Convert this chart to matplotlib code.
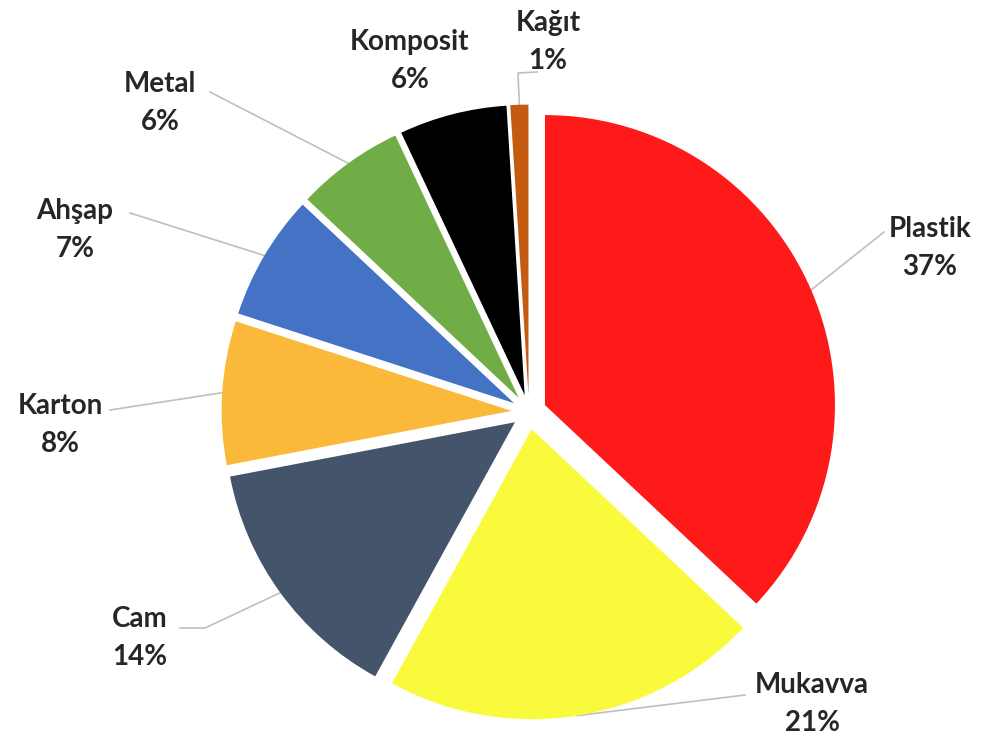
import numpy as np
import matplotlib
matplotlib.use("Agg")
import matplotlib.pyplot as plt

# Packaging material shares (%), clockwise from 12 o'clock
materials = ["Plastik", "Mukavva", "Cam", "Karton", "Ahşap", "Metal", "Komposit", "Kağıt"]
shares = [37, 21, 14, 8, 7, 6, 6, 1]
colors = ["#FF1A1A", "#FAFA3C", "#44546A", "#FBB93B", "#4472C4", "#70AD47", "#000000", "#C55A11"]

# layout in pixels of the 998x749 canvas
W, H = 998, 749
cx, cy, R = 529, 412, 290
explode_frac = 0.06
# label centres (px) and the elbow where the leader meets the label
label_px = [(930, 248), (812, 704), (140, 638), (60, 425), (75, 230), (160, 103), (410, 61), (548, 42)]
elbow_px = [(884, 232), (745, 695), (205, 628), (110, 410), (130, 213), (210, 92), None, (518, 73)]
stub_px = [None, None, (180, 628), None, None, None, None, (537, 72)]

fig = plt.figure(figsize=(W / 100, H / 100), dpi=100)
ax = fig.add_axes([0, 0, 1, 1])

wedges, _ = ax.pie(shares, colors=colors, startangle=90, counterclock=False,
                   explode=[explode_frac] * len(shares), radius=1.0,
                   wedgeprops=dict(linewidth=0))
# pie() resets the limits, so set them afterwards
ax.set_xlim(-cx / R, (W - cx) / R)
ax.set_ylim(-(H - cy) / R, cy / R)
ax.set_aspect("equal")
ax.axis("off")

def px2d(p):
    return ((p[0] - cx) / R, (cy - p[1]) / R)

for w, name, val, lp, ep, sp in zip(wedges, materials, shares, label_px, elbow_px, stub_px):
    mid = np.deg2rad((w.theta1 + w.theta2) / 2)
    ox, oy = w.center
    ax_pt = (ox + np.cos(mid), oy + np.sin(mid))
    if ep is not None:
        pts = [ax_pt, px2d(ep)]
        if sp is not None:
            pts.append(px2d(sp))
        xs, ys = zip(*pts)
        ax.plot(xs, ys, color="#BFBFBF", lw=1.2, zorder=0)
    lx, ly = px2d(lp)
    ax.text(lx, ly, f"{name}\n{val}%", ha="center", va="center",
            fontsize=20, fontweight="bold", family="Lato", color="#262626",
            linespacing=1.6)

fig.savefig("out.png", dpi=100, facecolor="white")
